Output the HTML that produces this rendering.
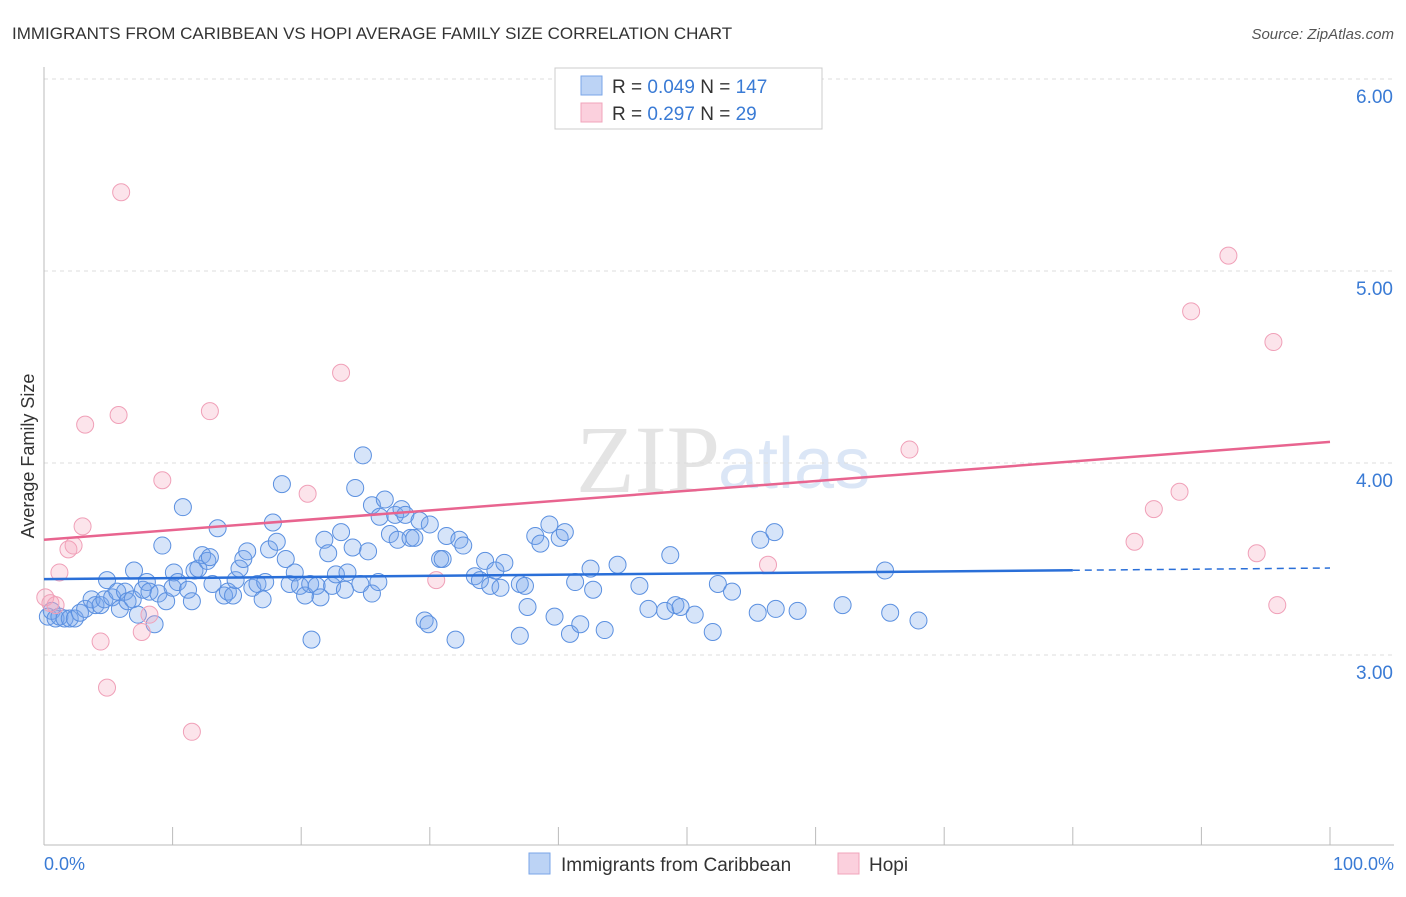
<!DOCTYPE html>
<html><head><meta charset="utf-8"><style>
body{margin:0;background:#fff;font-family:"Liberation Sans",sans-serif;}
</style></head><body>
<svg width="1406" height="892" xmlns="http://www.w3.org/2000/svg" id="svg">
<text x="12" y="39" font-size="17" fill="#333">IMMIGRANTS FROM CARIBBEAN VS HOPI AVERAGE FAMILY SIZE CORRELATION CHART</text>
<text x="1394" y="39" font-size="15" fill="#555" font-style="italic" text-anchor="end">Source: ZipAtlas.com</text>
<text x="720" y="492" font-size="96" fill="#e4e4e4" text-anchor="end" font-family="Liberation Serif">ZIP</text>
<text x="718" y="488" font-size="72" fill="#dbe6f6">atlas</text>
<g id="grid"></g>
<line x1="44" y1="67" x2="44" y2="845" stroke="#bbb"/>
<line x1="44" y1="845" x2="1394" y2="845" stroke="#bbb"/>
<g id="xticks"></g>
<text x="44" y="870" font-size="18" fill="#3a7bd5">0.0%</text>
<text x="1394" y="870" font-size="18" fill="#3a7bd5" text-anchor="end">100.0%</text>
<text transform="translate(34,456) rotate(-90)" font-size="18" fill="#333" text-anchor="middle">Average Family Size</text>
<g id="pts"></g>
<g id="lines"></g>
<g>
<rect x="555" y="68" width="267" height="61" fill="#fff" stroke="#ccc"/>
<rect x="581" y="76" width="21" height="19" fill="#bcd3f5" stroke="#7aa6e8"/>
<rect x="581" y="103" width="21" height="19" fill="#fbd0dd" stroke="#f0a4bb"/>
<text x="612" y="93" font-size="19" fill="#333">R = <tspan fill="#3a7bd5">0.049</tspan>   N = <tspan fill="#3a7bd5">147</tspan></text>
<text x="612" y="120" font-size="19" fill="#333">R =  <tspan fill="#3a7bd5">0.297</tspan>   N =   <tspan fill="#3a7bd5">29</tspan></text>
</g>
<rect x="529" y="853" width="21" height="21" fill="#bcd3f5" stroke="#7aa6e8"/>
<text x="561" y="871" font-size="19" fill="#333">Immigrants from Caribbean</text>
<rect x="838" y="853" width="21" height="21" fill="#fbd0dd" stroke="#f0a4bb"/>
<text x="869" y="871" font-size="19" fill="#333">Hopi</text>
</svg>
<script>
const yTicks=[3,4,5,6];
const yTickLabels=["3.00","4.00","5.00","6.00"];
const xTickPcts=[0,10,20,30,40,50,60,70,80,90,100];
const blueX=[0.3,0.6,0.9,1.2,1.6,2.0,2.4,2.8,3.2,3.7,4.0,4.4,4.7,4.9,5.3,5.7,5.9,6.3,6.5,6.9,7.0,7.3,7.7,8.0,8.2,8.6,8.9,9.2,9.5,10.0,10.1,10.4,10.8,11.2,11.5,11.7,12.0,12.3,12.7,12.9,13.1,13.5,14.0,14.3,14.7,14.9,15.2,15.5,15.8,16.2,16.6,17.0,17.2,17.5,17.8,18.1,18.5,18.8,19.1,19.5,19.9,20.3,20.7,20.8,21.2,21.5,21.8,22.1,22.4,22.7,23.1,23.4,23.6,24.0,24.2,24.6,24.8,25.2,25.5,26.0,25.5,26.1,26.5,26.9,27.3,27.5,27.8,28.1,28.5,28.8,29.2,29.6,29.9,30.0,30.8,31.0,31.3,32.0,32.3,32.6,33.5,33.9,34.3,34.7,35.1,35.5,35.8,37.0,37.4,37.0,37.6,38.2,38.6,39.3,39.7,40.1,40.5,40.9,41.3,41.7,42.5,42.7,43.6,44.6,46.3,47.0,48.3,48.7,49.1,49.5,50.6,52.0,52.4,53.5,55.7,55.5,56.8,56.9,58.6,62.1,65.4,65.8,68.0];
const blueY=[3.20,3.23,3.19,3.20,3.19,3.19,3.19,3.22,3.24,3.29,3.26,3.26,3.29,3.39,3.30,3.33,3.24,3.33,3.28,3.29,3.44,3.21,3.34,3.38,3.33,3.16,3.32,3.57,3.28,3.35,3.43,3.38,3.77,3.34,3.28,3.44,3.45,3.52,3.49,3.51,3.37,3.66,3.31,3.33,3.31,3.39,3.45,3.50,3.54,3.35,3.37,3.29,3.38,3.55,3.69,3.59,3.89,3.50,3.37,3.43,3.36,3.31,3.37,3.08,3.36,3.30,3.60,3.53,3.36,3.42,3.64,3.34,3.43,3.56,3.87,3.37,4.04,3.54,3.32,3.38,3.78,3.72,3.81,3.63,3.73,3.60,3.76,3.73,3.61,3.61,3.70,3.18,3.16,3.68,3.50,3.50,3.62,3.08,3.60,3.57,3.41,3.39,3.49,3.36,3.44,3.35,3.48,3.37,3.36,3.10,3.25,3.62,3.58,3.68,3.20,3.61,3.64,3.11,3.38,3.16,3.45,3.34,3.13,3.47,3.36,3.24,3.23,3.52,3.26,3.25,3.21,3.12,3.37,3.33,3.60,3.22,3.64,3.24,3.23,3.26,3.44,3.22,3.18];
const pinkX=[0.1,0.5,0.9,1.2,1.9,2.3,3.0,3.2,4.4,4.9,5.8,6.0,7.6,8.2,9.2,11.5,12.9,20.5,23.1,30.5,56.3,67.3,84.8,86.3,88.3,89.2,92.1,94.3,95.6,95.9];
const pinkY=[3.30,3.27,3.26,3.43,3.55,3.57,3.67,4.20,3.07,2.83,4.25,5.41,3.12,3.21,3.91,2.60,4.27,3.84,4.47,3.39,3.47,4.07,3.59,3.76,3.85,4.79,5.08,3.53,4.63,3.26];
const blueTrend=[3.395,3.453];
const pinkTrend=[3.60,4.11];

const NS="http://www.w3.org/2000/svg";
const X=p=>44+p*12.86;
const Y=v=>79+(6-v)*192;
function mk(t,a,parent){const e=document.createElementNS(NS,t);for(const k in a)e.setAttribute(k,a[k]);document.getElementById(parent).appendChild(e);return e;}
yTicks.forEach((v,i)=>{
  const l=mk('line',{x1:44,x2:1394,y1:Y(v),y2:Y(v),stroke:'#ddd','stroke-dasharray':'4,4'},'grid');
  
  
  const t=mk('text',{x:1393,y:Y(v)+24,'font-size':19,fill:'#3a7bd5','text-anchor':'end'},'grid');
  t.textContent=yTickLabels[i];
  
  
});
xTickPcts.forEach(p=>{
  const l=mk('line',{x1:X(p),x2:X(p),y1:827,y2:845,stroke:'#bbb'},'xticks');
  
  
});
blueX.forEach((x,i)=>{
  const c=mk('circle',{cx:X(x),cy:Y(blueY[i]),r:8.5,fill:'rgba(120,165,235,0.3)',stroke:'#5b90e0','stroke-width':1},'pts');
  
  
});
pinkX.forEach((x,i)=>{
  const c=mk('circle',{cx:X(x),cy:Y(pinkY[i]),r:8.5,fill:'rgba(245,165,190,0.3)',stroke:'#f0a0b8','stroke-width':1},'pts');
  
  
});
const bAt=p=>blueTrend[0]+(blueTrend[1]-blueTrend[0])*p/100;
let l1=mk('line',{x1:X(0),y1:Y(bAt(0)),x2:X(80),y2:Y(bAt(80)),stroke:'#2a6fd8','stroke-width':2.5},'lines');


let l2=mk('line',{x1:X(80),y1:Y(bAt(80)),x2:X(100),y2:Y(bAt(100)),stroke:'#2a6fd8','stroke-width':1.5,'stroke-dasharray':'7,5'},'lines');


let l3=mk('line',{x1:X(0),y1:Y(pinkTrend[0]),x2:X(100),y2:Y(pinkTrend[1]),stroke:'#e8648f','stroke-width':2.5},'lines');


</script>
</body></html>
